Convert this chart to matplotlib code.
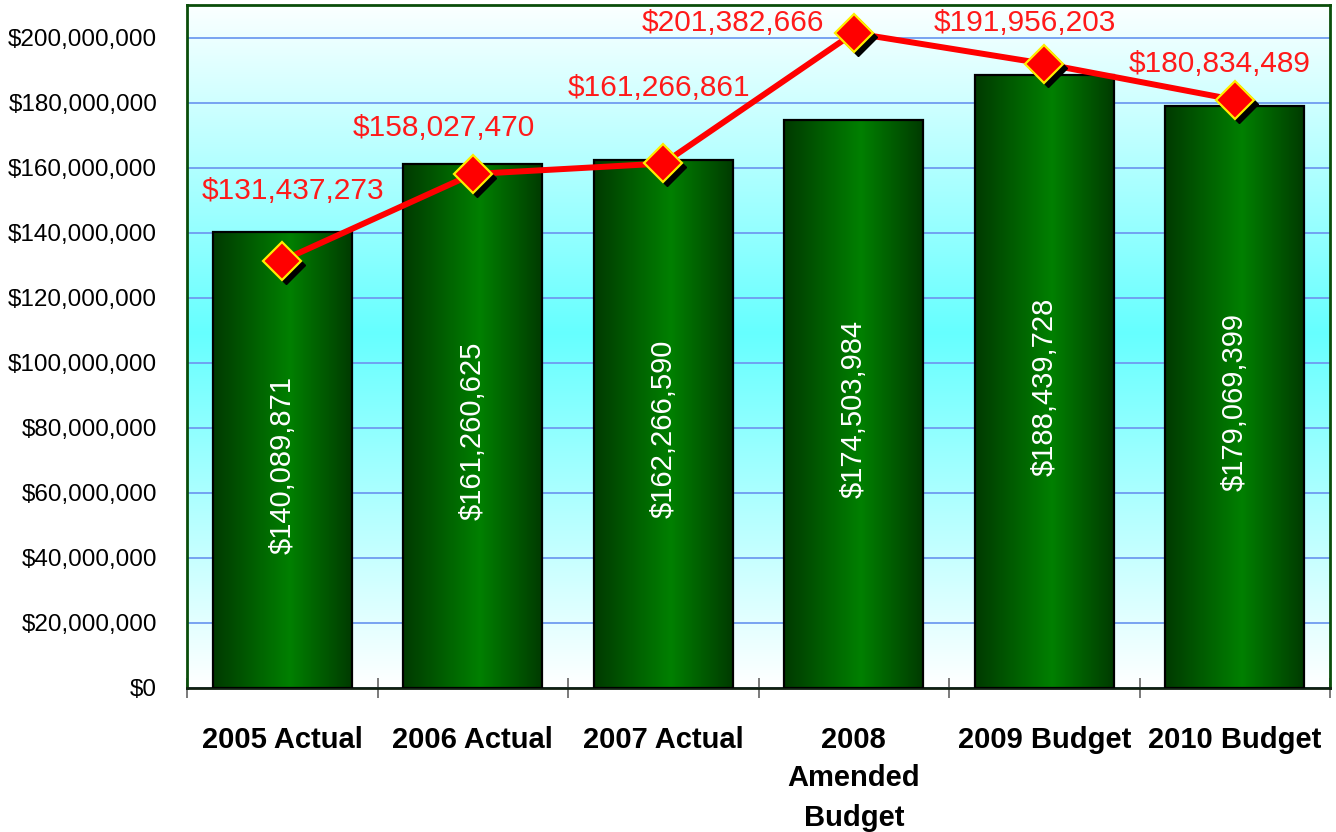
import numpy as np
import matplotlib
matplotlib.use("Agg")
import matplotlib.pyplot as plt
from matplotlib.colors import LinearSegmentedColormap
from matplotlib.patches import Rectangle
from matplotlib.ticker import FuncFormatter, MultipleLocator
import matplotlib.transforms as mtransforms

plt.rcParams['font.family'] = ['Liberation Sans', 'DejaVu Sans']

categorie = ["2005 Actual", "2006 Actual", "2007 Actual",
             "2008\nAmended\nBudget", "2009 Budget", "2010 Budget"]
valori_barre = [140089871, 161260625, 162266590, 174503984, 188439728, 179069399]
valori_linea = [131437273, 158027470, 161266861, 201382666, 191956203, 180834489]

# spostamento etichette rosse (punti): solo stile
offset_etichette = [(8, 50), (-21, 33), (-3, 54), (-87, 7), (-14, 29), (-11, 26)]


def formato_dollari(v, pos=None):
    return f"${v:,.0f}"


fig = plt.figure(figsize=(13.36, 8.32), dpi=100)
ax = fig.add_axes([187 / 1336, 1 - 688 / 832, 1143 / 1336, 683 / 832])

x = np.arange(len(categorie))
ax.set_xlim(-0.5, len(categorie) - 0.5)
ax.set_ylim(0, 210e6)

# sfondo sfumato bianco -> ciano -> bianco
cmap_sfondo = LinearSegmentedColormap.from_list(
    "sfondo", [(0, "#ffffff"), (0.52, "#66ffff"), (1, "#fbffff")])
grad = np.linspace(0, 1, 256).reshape(-1, 1)
ax.imshow(grad, cmap=cmap_sfondo, aspect='auto', origin='lower',
          extent=[-0.5, len(categorie) - 0.5, 0, 210e6], zorder=0)

ax.yaxis.set_major_locator(MultipleLocator(20e6))
ax.yaxis.set_major_formatter(FuncFormatter(formato_dollari))
ax.grid(axis='y', color='#6f9cf0', linewidth=1.3, zorder=1)
ax.set_axisbelow(True)

# barre con sfumatura orizzontale
cmap_barra = LinearSegmentedColormap.from_list(
    "barra", [(0, "#003a00"), (0.55, "#008000"), (1, "#003a00")])
larghezza = 0.73
oriz = np.linspace(0, 1, 256).reshape(1, -1)
for xi, v in zip(x, valori_barre):
    rett = Rectangle((xi - larghezza / 2, 0), larghezza, v,
                     facecolor='none', edgecolor='black', linewidth=1.6, zorder=3)
    ax.add_patch(rett)
    im = ax.imshow(oriz, cmap=cmap_barra, aspect='auto',
                   extent=[xi - larghezza / 2, xi + larghezza / 2, 0, v], zorder=2)
    im.set_clip_path(rett)
    ax.text(xi, v / 2 - 1.5e6, formato_dollari(v), rotation=90, color='white',
            ha='center', va='center', fontsize=21, zorder=4)

# linea rossa con ombra dei marcatori
ax.plot(x, valori_linea, color='red', linewidth=4.3, zorder=5, solid_capstyle='butt')
ombra = mtransforms.offset_copy(ax.transData, fig=fig, x=4, y=-4, units='dots')
ax.plot(x, valori_linea, linestyle='none', marker='D', markersize=19,
        color='black', transform=ombra, zorder=6)
ax.plot(x, valori_linea, linestyle='none', marker='D', markersize=19,
        markerfacecolor='red', markeredgecolor='#ffee00', markeredgewidth=1.6, zorder=7)

for xi, v, (dx, dy) in zip(x, valori_linea, offset_etichette):
    ax.annotate(formato_dollari(v), (xi, v), xytext=(dx, dy), textcoords='offset points',
                ha='center', va='center', color='#ff1a1a', fontsize=21.5, zorder=8,
                annotation_clip=False)

# assi
for lato in ['left', 'top', 'right']:
    ax.spines[lato].set_color('#0a4d0a')
    ax.spines[lato].set_linewidth(2)
ax.spines['bottom'].set_color('#102010')
ax.spines['bottom'].set_linewidth(2)

ax.set_xticks(np.arange(len(categorie) + 1) - 0.5, minor=False)
ax.set_xticklabels([])
ax.tick_params(axis='x', which='major', direction='inout', length=14, color='#707070', width=1.3)
ax.set_xticks(x, minor=True)
ax.set_xticklabels(categorie, minor=True, fontsize=21, fontweight='bold', linespacing=1.5)
ax.tick_params(axis='x', which='minor', length=0, pad=27)
for lab in ax.get_xticklabels(minor=True):
    lab.set_verticalalignment('top')
ax.tick_params(axis='y', length=0, labelsize=17.5, pad=21.5)

fig.savefig("out.png", dpi=100)
